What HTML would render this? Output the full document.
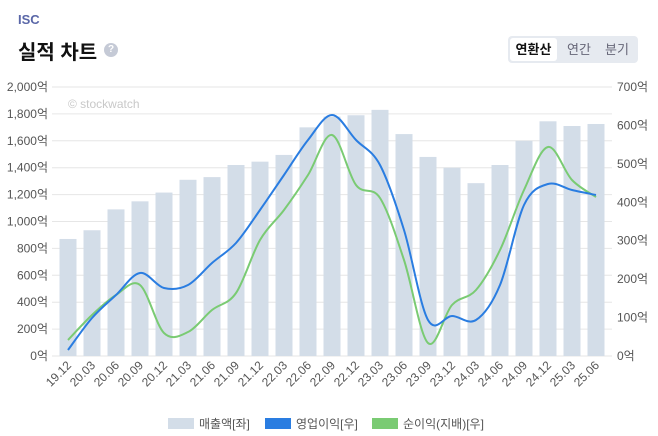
<!DOCTYPE html>
<html><head><meta charset="utf-8"><style>
body{margin:0;width:658px;height:436px;background:#fff;font-family:"Liberation Sans","Noto Sans CJK KR",sans-serif;overflow:hidden;position:relative}
.t1{position:absolute;left:18px;top:12px;font-size:13px;font-weight:bold;color:#5a67a8}
.t2{position:absolute;left:18px;top:36px;font-size:20px;font-weight:bold;color:#111}
.q{position:absolute;left:104px;top:43px;width:14px;height:14px;border-radius:50%;background:#c5cad6;color:#fff;font-size:10px;text-align:center;line-height:14px;font-weight:bold}
.btns{position:absolute;left:508px;top:36px;width:130px;height:27px;background:#e6eaf0;border-radius:4px}
.btns span{position:absolute;top:0;height:27px;line-height:27px;font-size:13px;color:#667}
.sel{left:2px;top:2px!important;height:23px!important;line-height:23px!important;width:47px;background:#fff;border-radius:3px;text-align:center;color:#111!important;font-weight:bold}
</style></head><body>
<div class="t1">ISC</div>
<div class="t2">실적 차트</div>
<div class="q">?</div>
<div class="btns"><span class="sel">연환산</span><span style="left:59px">연간</span><span style="left:97px">분기</span></div>
<svg id="c" width="658" height="436" style="position:absolute;left:0;top:0"></svg>
<script>
(function(){
const s=document.getElementById('c');let h='';
const y0=356,yTop=87,H=y0-yTop;
for(let i=0;i<=10;i++){const y=y0-H*i/10;h+=`<line x1="52" x2="612" y1="${y}" y2="${y}" stroke="#e6e6e6"/>`;
h+=`<text x="48" y="${y+4}" font-size="12" fill="#555" text-anchor="end">${(i*200).toLocaleString('en-US')}억</text>`;}
for(let i=0;i<=7;i++){const y=y0-H*i/7;h+=`<text x="617" y="${y+4}" font-size="12" fill="#555">${i*100}억</text>`;}
h+=`<text x="68" y="108" font-size="12" fill="#c8c8c8">© stockwatch</text>`;
const L=['19.12','20.03','20.06','20.09','20.12','21.03','21.06','21.09','21.12','22.03','22.06','22.09','22.12','23.03','23.06','23.09','23.12','24.03','24.06','24.09','24.12','25.03','25.06'];
const B=[870,935,1090,1150,1215,1310,1330,1420,1445,1495,1700,1780,1790,1830,1650,1480,1400,1285,1420,1600,1745,1710,1725];
const BL=[350,318,295,273,288,285,263,243,210,175,140,115,140,165,230,320,316,320,285,205,184,190,195];
const GR=[340,315,295,285,333,332,310,293,240,210,175,135,185,198,260,343,305,290,250,190,147,180,197];
const X=i=>68+i*24;
B.forEach((v,i)=>{const bh=v/2000*H;h+=`<rect x="${X(i)-8.5}" y="${y0-bh}" width="17" height="${bh}" fill="#d3dde8"/>`;
h+=`<text transform="translate(${X(i)+4},${y0+10}) rotate(-45)" font-size="12" fill="#555" text-anchor="end">${L[i]}</text>`;});
function path(Y){let d=`M${X(0)},${Y[0]}`;for(let i=0;i<Y.length-1;i++){const p0=[X(Math.max(i-1,0)),Y[Math.max(i-1,0)]],p1=[X(i),Y[i]],p2=[X(i+1),Y[i+1]],p3=[X(Math.min(i+2,Y.length-1)),Y[Math.min(i+2,Y.length-1)]];
d+=` C${p1[0]+(p2[0]-p0[0])/6},${p1[1]+(p2[1]-p0[1])/6} ${p2[0]-(p3[0]-p1[0])/6},${p2[1]-(p3[1]-p1[1])/6} ${p2[0]},${p2[1]}`;}return d;}
h+=`<path d="${path(GR)}" fill="none" stroke="#7acb73" stroke-width="2"/>`;
h+=`<path d="${path(BL)}" fill="none" stroke="#2a7de1" stroke-width="2"/>`;
const lg=[[168,'#d3dde8','매출액[좌]'],[265,'#2a7de1','영업이익[우]'],[372,'#7acb73','순이익(지배)[우]']];
lg.forEach(([x,c,t])=>{h+=`<rect x="${x}" y="418" width="26" height="11" fill="${c}"/><text x="${x+31}" y="428" font-size="12" fill="#555">${t}</text>`;});
s.innerHTML=h;
})();
</script>
</body></html>
